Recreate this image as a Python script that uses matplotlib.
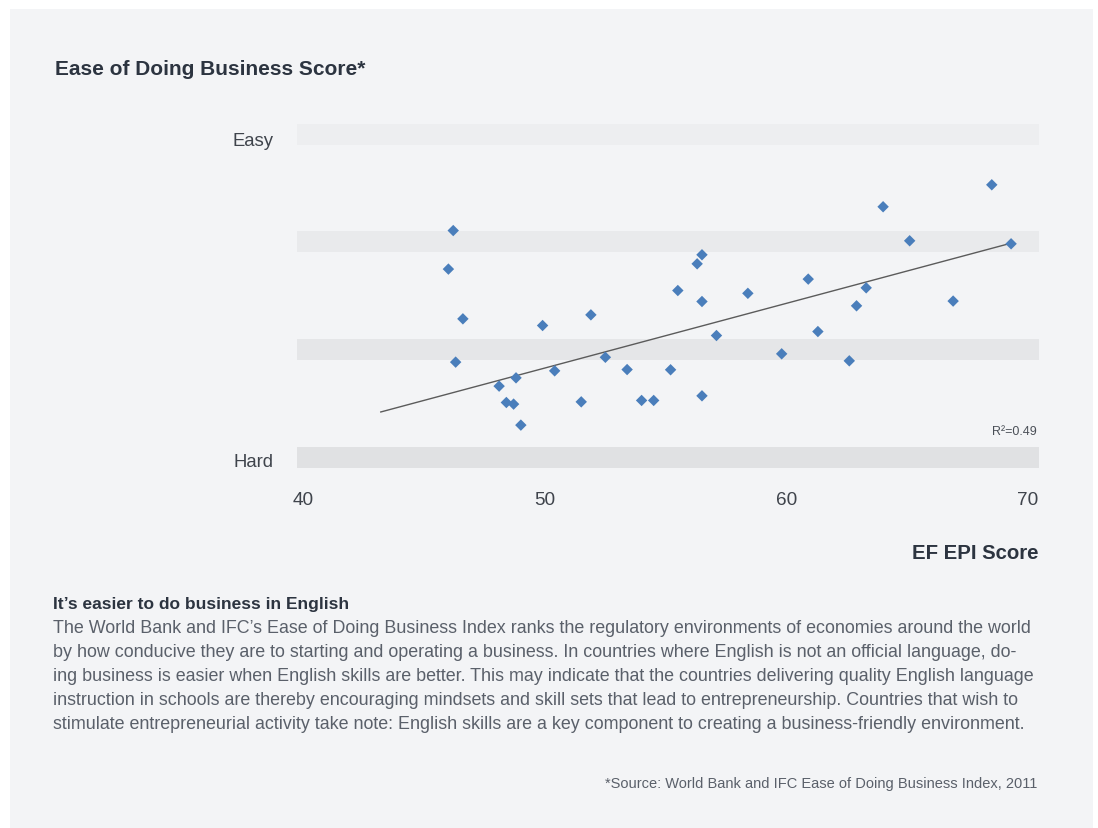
import numpy as np
import matplotlib
matplotlib.use("Agg")
import matplotlib.pyplot as plt
from matplotlib.patches import Rectangle
from matplotlib.transforms import ScaledTranslation

plt.rcParams["font.family"] = ["Liberation Sans", "DejaVu Sans"]

# EF EPI score (x) against ease of doing business (y, 0 = hard ... 30 = easy)
epi_score = [46.2, 46.0, 46.6, 46.3, 48.1, 48.4, 48.7, 48.8, 49.0, 49.9,
             50.4, 51.5, 51.9, 52.5, 53.4, 54.0, 54.5, 55.2, 55.5, 56.3,
             56.5, 56.5, 56.5, 57.1, 58.4, 59.8, 60.9, 61.3, 62.6, 62.9,
             63.3, 64.0, 65.1, 66.9, 68.5, 69.3]
business_score = [21.06, 17.48, 12.86, 8.84, 6.61, 5.09, 4.94, 7.38, 2.99, 12.24,
                  8.03, 5.15, 13.23, 9.29, 8.15, 5.28, 5.28, 8.13, 15.49, 17.97,
                  18.81, 14.47, 5.71, 11.31, 15.23, 9.61, 16.55, 11.68, 8.96, 14.07,
                  15.74, 23.27, 20.11, 14.51, 25.31, 19.83]
# linear trend line (R² = 0.49), drawn back to 43.2 on the EPI scale
trend_slope = 0.6007
trend_intercept = -21.74
trend_start = 43.2
band_levels = [0, 10, 20, 30]
band_colors = ["#e0e1e3", "#e5e6e8", "#e9eaec", "#edeef0"]
x_ticks = [40, 50, 60, 70]
y_ticks = [0, 30]
y_tick_labels = ["Hard", "Easy"]
r2_label = "R²=0.49"

title = "Ease of Doing Business Score*"
x_title = "EF EPI Score"
note_heading = "It’s easier to do business in English"
note_lines = [
    "The World Bank and IFC’s Ease of Doing Business Index ranks the regulatory environments of economies around the world",
    "by how conducive they are to starting and operating a business. In countries where English is not an official language, do-",
    "ing business is easier when English skills are better. This may indicate that the countries delivering quality English language",
    "instruction in schools are thereby encouraging mindsets and skill sets that lead to entrepreneurship. Countries that wish to",
    "stimulate entrepreneurial activity take note: English skills are a key component to creating a business-friendly environment.",
]
source = "*Source: World Bank and IFC Ease of Doing Business Index, 2011"

W, H = 1098, 829
fig = plt.figure(figsize=(W / 100, H / 100), dpi=100)
fig.patch.set_facecolor("white")


def fx(px):
    return px / W


def fy(py):
    return 1 - py / H


# light panel behind everything
fig.patches.append(Rectangle((fx(10), 0), fx(1093) - fx(10), fy(10),
                             transform=fig.transFigure, facecolor="#f3f4f6",
                             edgecolor="none", zorder=-10))

ax = fig.add_axes([fx(296.5), fy(468.8), fx(1038.5) - fx(296.5), fy(124.8) - fy(468.8)])
ax.set_facecolor("none")
ax.set_xlim(39.71, 70.435)
ax.set_ylim(-0.975, 30.975)

for lvl, col in zip(band_levels, band_colors):
    ax.axhspan(lvl - 0.975, lvl + 0.975, color=col, lw=0, zorder=0)

x = np.array(epi_score)
y = np.array(business_score)
ax.scatter(x, y, marker="D", s=34, color="#4a7ebb", edgecolors="none", zorder=3)

xs = np.array([trend_start, x.max()])
ax.plot(xs, trend_slope * xs + trend_intercept, color="#5b5b5b", lw=1.0, zorder=2)

for s in ax.spines.values():
    s.set_visible(False)
ax.set_xticks(x_ticks)
ax.set_xticklabels([str(t) for t in x_ticks])
ax.set_yticks(y_ticks)
ax.set_yticklabels(y_tick_labels)
ax.tick_params(axis="x", length=0, pad=17, labelsize=13.7, labelcolor="#3f444c")
ax.tick_params(axis="y", length=0, pad=16.5, labelsize=13.3, labelcolor="#3f444c")
for lab, dy in zip(ax.get_yticklabels(), [-0.02, -0.04]):
    lab.set_transform(lab.get_transform() + ScaledTranslation(0, dy, fig.dpi_scale_trans))

fig.text(fx(1037), fy(432), r2_label, ha="right", va="center", fontsize=9,
         color="#4a4f57")

fig.text(fx(55), fy(75), title, ha="left", va="baseline", fontsize=15,
         weight="bold", color="#2c3440")
fig.text(fx(1038), fy(559), x_title, ha="right", va="baseline", fontsize=14.7,
         weight="bold", color="#2c3440")
fig.text(fx(53), fy(609), note_heading, ha="left", va="baseline", fontsize=12.5,
         weight="bold", color="#2c3440")

body = []
for i, line in enumerate(note_lines):
    body.append(fig.text(fx(53), fy(633 + 24 * i), line, ha="left",
                         va="baseline", fontsize=12.3, color="#5a606a"))
src = fig.text(fx(1037), fy(788), source, ha="right", va="baseline",
               fontsize=10, color="#5a606a")

# size the paragraph so its first line spans the column width
fig.canvas.draw()
r = fig.canvas.get_renderer()
w0 = body[0].get_window_extent(r).width
scale = (1037 - 53) / w0
for t in body:
    t.set_fontsize(12.3 * scale)
ws = src.get_window_extent(r).width
src.set_fontsize(10 * (1037 - 607) / ws)

fig.savefig("out.png", dpi=100, facecolor=fig.get_facecolor())
